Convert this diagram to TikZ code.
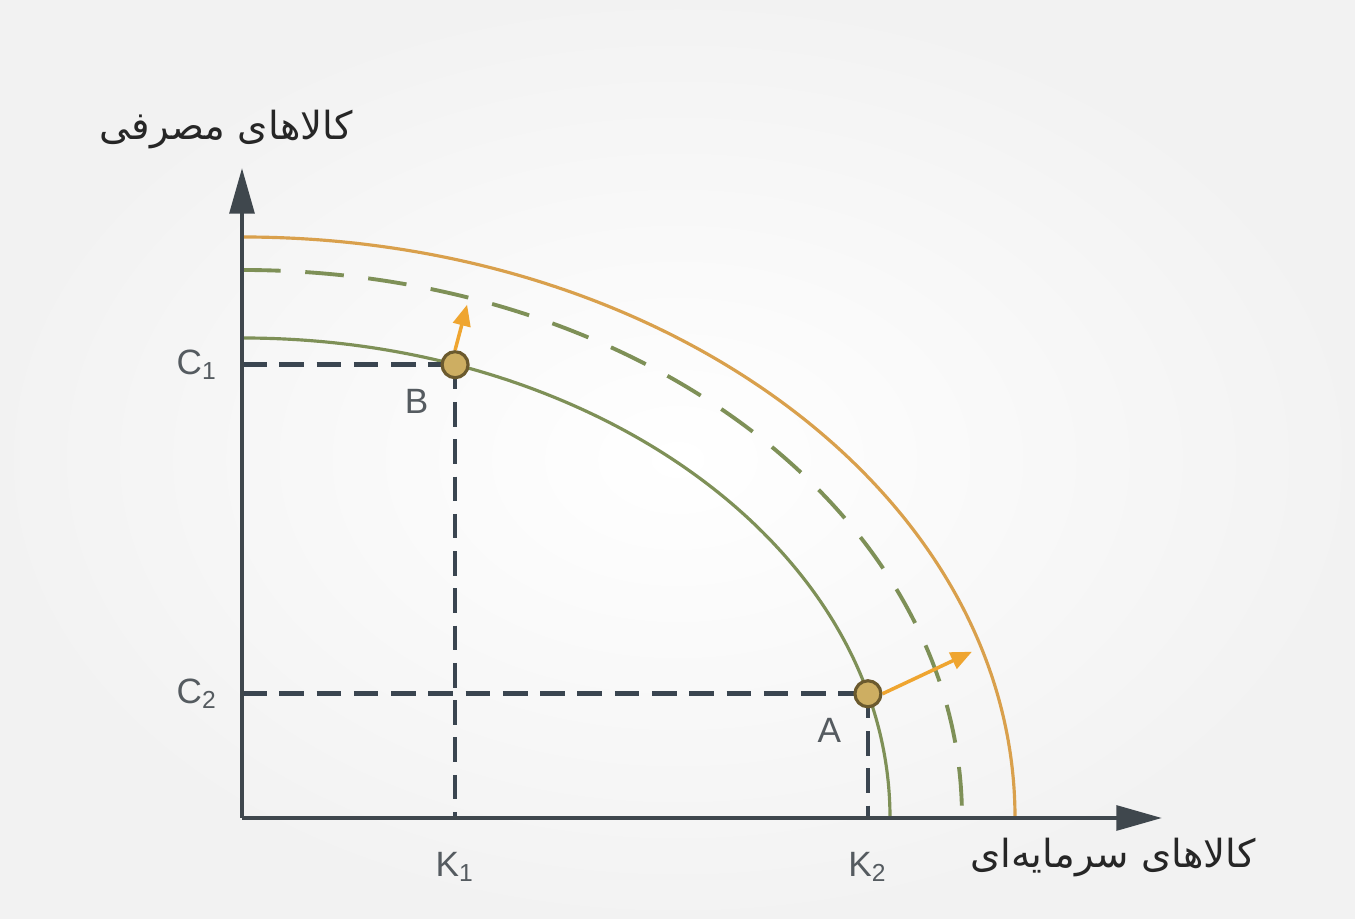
\documentclass[tikz,border=0pt]{standalone}
\usepackage{fontspec}
\setmainfont{Liberation Sans}
\newfontfamily\arabicfont[Script=Arabic]{DejaVu Sans}
\TeXXeTstate=1
\usetikzlibrary{positioning, calc, arrows.meta}

\definecolor{axisgray}{HTML}{3F474D}
\definecolor{dashgray}{HTML}{3A4550}
\definecolor{ppfgreen}{HTML}{7E9057}
\definecolor{ppforange}{HTML}{D9A04C}
\definecolor{pointfill}{HTML}{CDAE62}
\definecolor{pointdraw}{HTML}{6B5A2E}
\definecolor{shiftorange}{HTML}{EFA530}
\definecolor{labelgray}{HTML}{555B60}

\begin{document}
\begin{tikzpicture}[
  x=0.01cm, y=0.01cm,
  font=\fontsize{10}{12}\selectfont,
  axisline/.style={axisgray, line width=1.2pt, -{Triangle[length=13pt, width=7pt]}},
  ppfline/.style={ppfgreen, line width=0.9pt},
  ppfdash/.style={ppfgreen, line width=1.1pt, dash pattern=on 11pt off 7pt},
  ppfnew/.style={ppforange, line width=0.9pt},
  guide/.style={dashgray, line width=1.3pt, dash pattern=on 7pt off 3.6pt},
  point/.style={circle, fill=pointfill, draw=pointdraw, line width=0.9pt, minimum size=0.26cm, inner sep=0pt},
  shiftarrow/.style={shiftorange, line width=1pt, -{Triangle[length=6pt, width=5pt]}},
  ticklabel/.style={labelgray, font=\fontsize{10}{12}\selectfont},
  axislabel/.style={text=black!85, font=\arabicfont\fontsize{11}{13}\selectfont},
]

% ---- 0. page and background ----
\useasboundingbox (0,0) rectangle (1355,919);
\shade[inner color=white, outer color=gray!10] (0,0) rectangle (1355,919);

% ---- 1. frontier sizes (pixel units) ----
\pgfmathsetmacro{\aIn}{648}   % inner frontier
\pgfmathsetmacro{\bIn}{480}
\pgfmathsetmacro{\aMid}{720}  % dashed frontier
\pgfmathsetmacro{\bMid}{548}
\pgfmathsetmacro{\aOut}{773}  % outer frontier
\pgfmathsetmacro{\bOut}{581}
\pgfmathsetmacro{\angB}{70.8}
\pgfmathsetmacro{\angA}{15}

\coordinate (O) at (242,101);
\coordinate (yTip) at (242,751);
\coordinate (xTip) at (1162,101);

% ---- 2. frontiers ----
\draw[ppfline] ($(O)+(0,\bIn)$) arc[start angle=90, end angle=0, x radius=\aIn, y radius=\bIn];
\draw[ppfdash] ($(O)+(0,\bMid)$) arc[start angle=90, end angle=0, x radius=\aMid, y radius=\bMid];
\draw[ppfnew] ($(O)+(0,\bOut)$) arc[start angle=90, end angle=0, x radius=\aOut, y radius=\bOut];

% ---- 3. points on the inner frontier ----
\coordinate (Bpos) at ($(O)+({\aIn*cos(\angB)},{\bIn*sin(\angB)})$);
\coordinate (Apos) at ($(O)+({\aIn*cos(\angA)},{\bIn*sin(\angA)})$);
\coordinate (C1) at (O |- Bpos);
\coordinate (C2) at (O |- Apos);
\coordinate (K1) at (Bpos |- O);
\coordinate (K2) at (Apos |- O);

\draw[guide] (C1) -- (Bpos);
\draw[guide] (C2) -- (Apos);
\draw[guide] (Bpos) -- (K1);
\draw[guide] (Apos) -- (K2);

% ---- 4. axes ----
\draw[axisline] (O) -- (yTip);
\draw[axisline] (O) -- (xTip);

\node[point] (B) at (Bpos) {};
\node[point] (A) at (Apos) {};

% ---- 5. outward shift arrows ----
\coordinate (Bto) at ($(B)+(12,60)$);
\coordinate (Ato) at ($(A)+(104,42)$);
\draw[shiftarrow] (B.north) -- (Bto);
\draw[shiftarrow] (A.east) -- (Ato);

% ---- 6. labels ----
\node[ticklabel, left=0.12cm of C1] (c1lab) {C\textsubscript{1}};
\node[ticklabel, left=0.12cm of C2] (c2lab) {C\textsubscript{2}};
\node[ticklabel, below=0.22cm of K1] (k1lab) {K\textsubscript{1}};
\node[ticklabel, below=0.22cm of K2] (k2lab) {K\textsubscript{2}};
\node[ticklabel, below left=0.02cm and 0.04cm of B] (blab) {B};
\node[ticklabel, below left=0.02cm and 0.04cm of A] (alab) {A};

\node[axislabel] (ylab) at (226,789) {\beginR کالاهای مصرفی\endR};
\node[axislabel] (xlab) at (1113,61) {\beginR کالاهای سرمایه‌ای\endR};

\end{tikzpicture}
\end{document}
